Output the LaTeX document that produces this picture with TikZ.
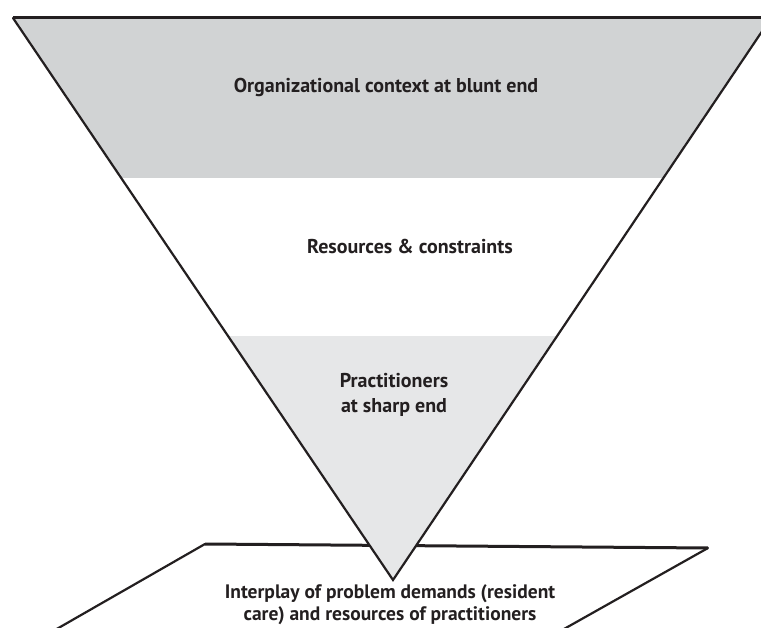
\documentclass[tikz,border=0pt]{standalone}
\usepackage{fontspec}
\setmainfont{PT Sans}
\definecolor{darkband}{HTML}{D1D3D4}
\definecolor{lightband}{HTML}{E6E7E8}
\definecolor{inkc}{HTML}{231F20}
\begin{document}
\begin{tikzpicture}[x=1pt,y=-1pt,
  lbl/.style={font=\fontsize{20}{25}\selectfont\bfseries, text=inkc, align=center, inner sep=0pt},
  side/.style={draw=inkc, line width=2.2pt, line cap=round},
  topedge/.style={draw=inkc, line width=3pt}]
\useasboundingbox (0,0) rectangle (761,628);
\begin{scope}
\clip (0,0) rectangle (761,628);
% coordinates
\coordinate (A) at (13,18);
\coordinate (B) at (771,18);
\coordinate (C) at (393,580);
\coordinate (P1) at (205,544);
\coordinate (P2) at (708,548);
\coordinate (P3) at (548,638);
\coordinate (P4) at (41,638);
% parallelogram
\draw[side] (P4) -- (P1);
\draw[topedge] (P1) -- (P2);
\draw[side] (P2) -- (P3);
% bands
\begin{scope}
\clip (A) -- (B) -- (C) -- cycle;
\fill[darkband] (0,0) rectangle (761,178);
\fill[white] (0,178) rectangle (761,336);
\fill[lightband] (0,336) rectangle (761,600);
\end{scope}
\draw[side, line join=miter] (A) -- (C) -- (B);
\draw[topedge] (A) -- (B);
\end{scope}
\node[lbl] (org) at (386,87) {Organizational context at blunt end};
\node[lbl] (res) at (410,247) {Resources \& constraints};
\node[lbl] (prac) at (394,395) {Practitioners\\at sharp end};
\node[lbl, font=\fontsize{19.5}{22}\selectfont\bfseries] (inter) at (390,605) {Interplay of problem demands (resident\\care) and resources of practitioners};
\end{tikzpicture}
\end{document}
